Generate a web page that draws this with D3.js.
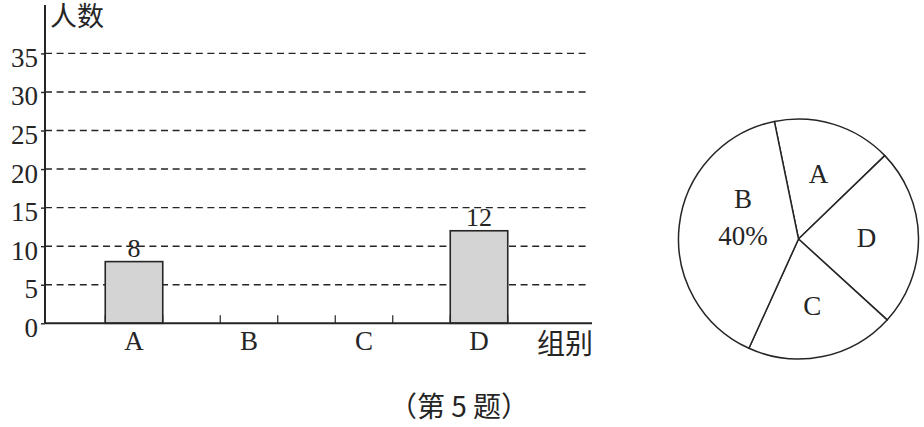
<!DOCTYPE html>
<html><head><meta charset="utf-8">
<script src="https://cdn.jsdelivr.net/npm/d3@7"></script>
<style>
html,body{margin:0;padding:0;background:#fff;}
svg{display:block;}
</style></head>
<body>
<svg id="c" width="924" height="427"></svg>
<script>
const categories = ["A", "B", "C", "D"];
const barValues = [8, null, null, 12];
const yTicks = [0, 5, 10, 15, 20, 25, 30, 35];
const pieCategories = ["A", "D", "C", "B"];
const pieValues = [8, 12, 10, 20];
const yTitle = "人数";
const xTitle = "组别";
const caption = "（第 5 题）";

const SERIF = '"Liberation Serif","Times New Roman",serif';
const CJK = '"Noto Sans CJK SC","Noto Sans",sans-serif';
const svg = d3.select("#c");
const ink = "#252525";

// ---- bar chart ----
const y = d3.scaleLinear().domain([0, 35]).range([323.3, 53.4]);
const x = d3.scaleBand().domain(categories).range([76.5, 536.5]).paddingInner(0.5).paddingOuter(0.25);
const axisX = 45;

// dashed grid lines
svg.append("g").selectAll("line").data(yTicks.filter(d => d > 0)).join("line")
  .attr("x1", axisX).attr("x2", 586)
  .attr("y1", d => y(d)).attr("y2", d => y(d))
  .attr("stroke", ink).attr("stroke-width", 1.4).attr("stroke-dasharray", "7,4.6");

// small marks at the edges of every category slot
const edges = categories.flatMap(c => [x(c), x(c) + x.bandwidth()]);
svg.append("g").selectAll("line").data(edges).join("line")
  .attr("x1", d => d).attr("x2", d => d).attr("y1", y(0) - 8).attr("y2", y(0))
  .attr("stroke", ink).attr("stroke-width", 1.2);

// bars
const bars = categories.map((c, i) => ({c, v: barValues[i]})).filter(d => d.v != null);
svg.append("g").selectAll("rect").data(bars).join("rect")
  .attr("x", d => x(d.c)).attr("width", x.bandwidth())
  .attr("y", d => y(d.v)).attr("height", d => y(0) - y(d.v))
  .attr("fill", "#d4d4d4").attr("stroke", ink).attr("stroke-width", 1.6);

svg.append("g").selectAll("text").data(bars).join("text")
  .style("font-family", SERIF).attr("fill", ink).attr("text-anchor", "middle")
  .attr("x", d => x(d.c) + x.bandwidth() / 2).attr("y", d => y(d.v) - 5)
  .attr("font-size", 26).text(d => d.v);

// y axis
const yAxis = d3.axisLeft(y).tickValues(yTicks).tickSize(4).tickPadding(3);
const gy = svg.append("g").attr("transform", `translate(${axisX},0)`).call(yAxis);
gy.select(".domain").remove();
gy.selectAll(".tick line").attr("stroke", ink).attr("stroke-width", 1.4);
gy.selectAll(".tick text").attr("font-size", 27).attr("fill", ink)
  .attr("dy", 13).style("font-family", SERIF);
svg.append("line").attr("x1", axisX).attr("x2", axisX).attr("y1", 5).attr("y2", y(0))
  .attr("stroke", ink).attr("stroke-width", 2);

// x axis
svg.append("line").attr("x1", axisX).attr("x2", 592).attr("y1", y(0)).attr("y2", y(0))
  .attr("stroke", ink).attr("stroke-width", 2);
const xAxis = d3.axisBottom(x).tickSize(0).tickPadding(0);
const gx = svg.append("g").attr("transform", `translate(0,${y(0)})`).call(xAxis);
gx.select(".domain").remove();
gx.selectAll(".tick text").attr("font-size", 27).attr("fill", ink)
  .attr("y", 27).attr("dy", 0).style("font-family", SERIF);

svg.append("text").style("font-family", CJK).attr("fill", ink).attr("x", 50).attr("y", 26).attr("font-size", 27).text(yTitle);
svg.append("text").style("font-family", CJK).attr("fill", ink).attr("x", 537).attr("y", 354).attr("font-size", 28).text(xTitle);
svg.append("text").style("font-family", CJK).attr("fill", ink).attr("x", 459).attr("y", 417).attr("text-anchor", "middle")
  .attr("font-size", 28).text(caption);

// ---- pie ----
const cx = 798.5, cy = 239, R = 120;
const start = -11.6 * Math.PI / 180;
const pie = d3.pie().sort(null).startAngle(start).endAngle(start + 2 * Math.PI);
const arcs = pie(pieValues);
const arc = d3.arc().innerRadius(0).outerRadius(R);
const labelArc = d3.arc().innerRadius(68).outerRadius(68);
const gp = svg.append("g").attr("transform", `translate(${cx},${cy})`);
gp.selectAll("path").data(arcs).join("path").attr("d", arc)
  .attr("fill", "#fff").attr("stroke", ink).attr("stroke-width", 1.5).attr("stroke-linejoin", "round");
const total = d3.sum(pieValues);
gp.selectAll("text").data(arcs).join("text")
  .style("font-family", SERIF).attr("fill", ink).attr("text-anchor", "middle").attr("font-size", 27)
  .attr("transform", d => { const [px, py] = labelArc.centroid(d); return `translate(${px},${py})`; })
  .each(function(d, i) {
    const t = d3.select(this);
    const name = pieCategories[i];
    if (name === "B") {
      t.append("tspan").attr("x", 12).attr("y", -23).text(name);
      t.append("tspan").attr("x", 12).attr("y", 14).text(Math.round(d.value / total * 100) + "%");
    } else {
      t.append("tspan").attr("x", 0).attr("dy", "0.33em").text(name);
    }
  });
</script>
</body></html>
